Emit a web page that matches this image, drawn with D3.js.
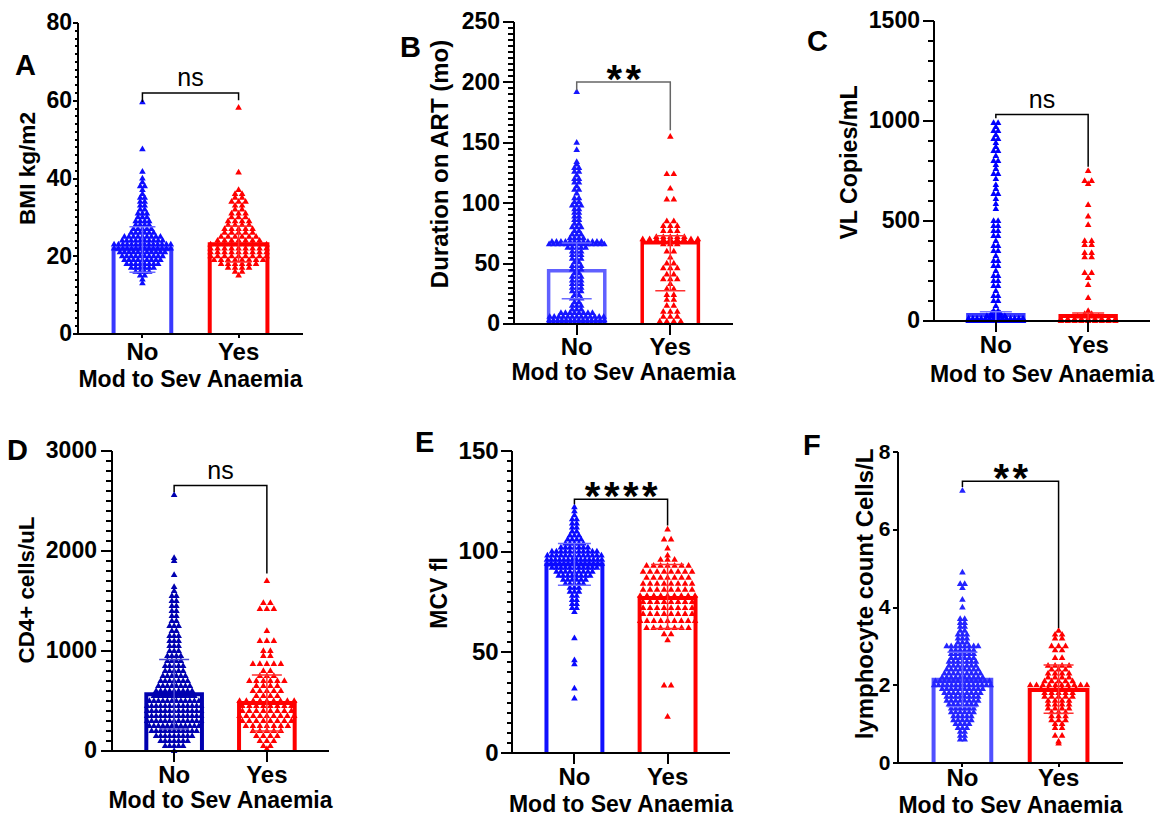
<!DOCTYPE html>
<html>
<head>
<meta charset="utf-8">
<script src="https://cdn.jsdelivr.net/npm/d3@7"></script>
<style>
  body { margin: 0; background: #fff; }
  svg text { font-family: "Liberation Sans", Arial, sans-serif; }
  .tick line, .domain { shape-rendering: crispEdges; }
</style>
</head>
<body>
<div id="chart"></div>
<script>
// groups on every x axis
const groups = ["No", "Yes"];

// each scatter group is a list of [value, number of points at that value]

// A - BMI
const bmiNo = [[13,1],[14,1],[15,2],[16,4],[17,6],[18,8],[19,9],[20,10],[21,11],[22,14],[23,14],[24,10],[25,9],[26,6],[27,5],[28,4],[29,4],[30,3],[31,3],[32,2],[33,2],[34,2],[35,2],[36,1],[37,1],[38,2],[39,1],[40,1],[41.7,1],[47.5,1],[59.6,1]];
const bmiYes = [[15,1],[16,2],[17,4],[18,6],[19,8],[20,9],[21,9],[22,9],[23,9],[24,7],[25,6],[26,5],[27,5],[28,4],[29,4],[30,3],[31,3],[32,2],[33,2],[34,3],[35,2],[36,2],[37,1],[41.5,1],[58.2,1]];
const bmiBar = [21.8, 23.1];
const bmiErr = [[15.9, 27.6], [18.5, 27.7]];
const bmiTicks = [0, 20, 40, 60, 80];
const bmiSig = [62.0, 59.7, 60.1];

// B - duration on ART
const artNo = [[1,14],[3,14],[6,13],[9,8],[12,3],[15,3],[18,2],[21,3],[24,2],[27,3],[30,3],[33,3],[36,3],[39,3],[42,2],[45,3],[48,3],[51,2],[54,3],[57,3],[60,3],[63,5],[66,14],[68,12],[71,4],[74,3],[77,2],[80,3],[83,2],[86,2],[89,2],[92,2],[95,2],[98,3],[101,2],[104,2],[108,1],[111,2],[114,1],[117,2],[120,2],[123,1],[126,2],[129,2],[132,1],[134,1],[144,1],[150,1],[192,1]];
const artYes = [[2,4],[6,3],[10,3],[15,2],[20,2],[24,2],[29,2],[33,1],[37,3],[41,2],[46,3],[50,2],[55,1],[60,2],[66,3],[70,9],[72,5],[77,3],[81,3],[85,2],[103,2],[112,1],[124,2],[155,1]];
const artBar = [44, 67.2];
const artErr = [[21, 67], [27.5, 73]];
const artTicks = [0, 50, 100, 150, 200, 250];
const artSig = [200.4, 193.5, 160.4];

// C - viral load
const vlNo = [[0,14],[12,14],[25,5],[37,3],[50,2],[75,1],[100,2],[125,2],[150,1],[175,2],[200,2],[225,2],[250,1],[275,2],[300,2],[325,1],[350,2],[375,2],[400,1],[425,2],[450,2],[475,2],[500,2],[560,1],[585,1],[610,1],[635,2],[660,1],[680,1],[710,1],[735,2],[760,1],[780,1],[800,2],[825,1],[850,2],[870,1],[890,1],[910,2],[930,1],[950,2],[970,1],[990,2]];
const vlYes = [[0,9],[10,9],[22,4],[35,2],[50,1],[115,1],[180,1],[215,1],[240,2],[318,2],[340,2],[380,2],[400,2],[480,1],[522,1],[580,1],[685,1],[700,2],[750,1]];
const vlBar = [30, 25];
const vlErr = [[0, 46], [0, 40]];
const vlTicks = [0, 500, 1000, 1500];
const vlSig = [1032, 1014, 771];

// D - CD4 count
const cd4No = [[0,1],[50,5],[100,7],[150,9],[200,11],[250,12],[300,13],[350,13],[400,13],[450,13],[500,12],[550,10],[600,9],[650,8],[700,7],[750,6],[800,5],[850,5],[900,4],[950,4],[1000,3],[1050,3],[1100,3],[1150,3],[1200,2],[1250,3],[1300,2],[1350,2],[1400,2],[1450,2],[1500,2],[1550,2],[1600,1],[1640,1],[1760,1],[1900,1],[1930,1],[2560,1]];
const cd4Yes = [[20,1],[50,2],[100,3],[150,4],[200,5],[250,7],[300,8],[350,9],[400,8],[450,8],[500,9],[550,4],[600,5],[650,4],[700,6],[750,3],[800,2],[870,5],[950,2],[1000,2],[1100,3],[1200,1],[1420,3],[1480,2],[1700,1]];
const cd4Bar = [567, 480];
const cd4Err = [[220, 914], [200, 760]];
const cd4Ticks = [0, 1000, 2000, 3000];
const cd4Sig = [2654, 2590, 1774];

// E - MCV
const mcvNo = [[27,1],[32,1],[44,1],[46,1],[57,1],[70,1],[72,2],[74,2],[76,2],[78,2],[80,3],[82,3],[84,5],[86,6],[88,8],[90,9],[92,11],[94,14],[96,14],[98,13],[100,11],[102,7],[104,5],[106,4],[108,3],[110,2],[112,2],[114,2],[116,2],[118,1],[120,1],[122,1]];
const mcvYes = [[18,1],[33.5,2],[56,1],[59,2],[62,7],[65.5,9],[69,8],[72,8],[75,8],[78,9],[81,8],[84,8],[87,7],[90,8],[93,7],[96,3],[98,1],[101.5,1],[106,2],[111,1]];
const mcvBar = [93.6, 77];
const mcvErr = [[83.3, 104], [61.8, 93.6]];
const mcvTicks = [0, 50, 100, 150];
const mcvSig = [126, 123.5, 113];

// F - lymphocyte count
const lymNo = [[0.6,2],[0.7,2],[0.8,2],[0.9,3],[1.0,4],[1.1,5],[1.2,5],[1.3,6],[1.4,6],[1.5,7],[1.6,8],[1.7,8],[1.8,9],[1.9,10],[2.0,14],[2.1,13],[2.2,10],[2.3,9],[2.4,8],[2.5,7],[2.6,7],[2.7,6],[2.8,6],[2.9,6],[3.0,8],[3.1,3],[3.2,3],[3.3,3],[3.4,2],[3.5,2],[3.6,2],[3.7,2],[4.0,1],[4.2,1],[4.5,1],[4.6,2],[4.9,1],[7.0,1]];
const lymYes = [[0.5,1],[0.55,1],[0.7,2],[0.9,2],[1.0,2],[1.1,3],[1.2,3],[1.3,3],[1.4,4],[1.5,4],[1.6,4],[1.7,5],[1.8,5],[1.9,6],[2.0,10],[2.1,5],[2.2,4],[2.3,4],[2.4,3],[2.5,4],[2.7,2],[2.9,2],[3.0,3],[3.2,2],[3.3,2],[3.4,1]];
const lymBar = [2.14, 1.88];
const lymErr = [[1.45, 2.85], [1.28, 2.52]];
const lymTicks = [0, 2, 4, 6, 8];
const lymSig = [7.25, 7.1, 3.47];

const red = "#ff0000";

// panel layout
const panels = [
  {letter: "A", lx: 15, ly: 75, title: "BMI kg/m2", tx: 35, ty: 168.5, tf: 22.6, xty: 387,
   left: 78, top: 23, w: 225, h: 311, ticks: bmiTicks, minor: 2, tMaj: 5, tMin: 3, yPad: 1, xTick: 4, xPad: 5, tickFont: 23,
   data: [bmiNo, bmiYes], bars: bmiBar, err: bmiErr, sig: "ns", sigY: bmiSig, sigColor: "#000",
   pt: "#0d0dff", bar: "#3838ff", barW: 4, errC: "#6a6aff", cap: 26},
  {letter: "B", lx: 400, ly: 57, title: "Duration on ART (mo)", tx: 447.5, ty: 164, tf: 24, xty: 380,
   left: 514, top: 22, w: 219, h: 302, ticks: artTicks, minor: 5, tMaj: 11, tMin: 6, yPad: 3, xTick: 11, xPad: 3, tickFont: 23,
   data: [artNo, artYes], bars: artBar, err: artErr, sig: "**", sigY: artSig, sigColor: "#666",
   pt: "#1616ff", bar: "#6060ff", barW: 3.5, errC: "#6a6aff", cap: 30},
  {letter: "C", lx: 807, ly: 51, title: "VL Copies/mL", tx: 857, ty: 162.5, tf: 23.2, xty: 381.7,
   left: 934, top: 21, w: 216, h: 300, ticks: vlTicks, minor: 100, tMaj: 11, tMin: 6, yPad: 3, xTick: 11, xPad: 4, tickFont: 23,
   data: [vlNo, vlYes], bars: vlBar, err: vlErr, sig: "ns", sigY: vlSig, sigColor: "#000",
   pt: "#0000ff", bar: "#3838ff", barW: 4, errC: "#7a7aff", cap: 32},
  {letter: "D", lx: 7, ly: 460, title: "CD4+ cells/uL", tx: 34, ty: 590, tf: 22.3, xty: 808.3,
   left: 112, top: 451, w: 217, h: 300, ticks: cd4Ticks, minor: 100, tMaj: 11, tMin: 6, yPad: 4, xTick: 11, xPad: 4, tickFont: 23,
   data: [cd4No, cd4Yes], bars: cd4Bar, err: cd4Err, sig: "ns", sigY: cd4Sig, sigColor: "#000",
   pt: "#0000b0", bar: "#0000b0", barW: 4, errC: "#4a4ad0", cap: 30},
  {letter: "E", lx: 415, ly: 452, title: "MCV fl", tx: 447, ty: 593, tf: 23, xty: 812,
   left: 512, top: 451, w: 218, h: 302, ticks: mcvTicks, minor: 5, tMaj: 11, tMin: 5, yPad: 2.4, xTick: 11, xPad: 4.3, tickFont: 24,
   data: [mcvNo, mcvYes], bars: mcvBar, err: mcvErr, sig: "****", sigY: mcvSig, sigColor: "#000",
   pt: "#0a0aff", bar: "#1010ff", barW: 4, errC: "#6a6aff", cap: 33},
  {letter: "F", lx: 803, ly: 455, title: "lymphocyte count Cells/L", tx: 872.5, ty: 594, tf: 24, xty: 812.5,
   left: 898, top: 452, w: 225, h: 311, ticks: lymTicks, minor: 0, tMaj: 5, tMin: 0, yPad: 2.5, xTick: 4, xPad: 2.4, tickFont: 21,
   data: [lymNo, lymYes], bars: lymBar, err: lymErr, sig: "**", sigY: lymSig, sigColor: "#000",
   pt: "#2424ff", bar: "#5050ff", barW: 4, errC: "#6a6aff", cap: 30}
];

const svg = d3.select("#chart")
  .append("svg")
    .attr("width", 1157)
    .attr("height", 818);

const tri = d3.symbol(d3.symbolTriangle, 19);

panels.forEach(p => {
  const g = svg.append("g")
      .attr("transform", `translate(${p.left},${p.top})`);

  const ymax = d3.max(p.ticks);
  const y = d3.scaleLinear().domain([0, ymax]).range([p.h, 0]);
  const x = d3.scalePoint().domain(groups).range([0, p.w]).padding(0.67);
  const bw = x.step() * 0.6;

  // bars (open outlines)
  g.selectAll(".bar")
    .data(p.bars)
    .join("path")
      .attr("class", "bar")
      .attr("d", (d, i) => {
        const cx = x(groups[i]);
        return `M${cx - bw / 2},${y(0)}V${y(d)}H${cx + bw / 2}V${y(0)}`;
      })
      .attr("fill", "none")
      .attr("stroke", (d, i) => i === 0 ? p.bar : red)
      .attr("stroke-width", p.barW);

  // scatter points, stacked in rows like the original
  const pts = [];
  p.data.forEach((bins, gi) => {
    const cx = x(groups[gi]);
    const sp = gi === 0 ? 4.5 : 7;
    bins.forEach(([v, n]) => {
      const s = n > 1 ? Math.min(sp, (bw - 1) / (n - 1)) : 0;
      for (let i = 0; i < n; i++) pts.push({x: cx + (i - (n - 1) / 2) * s, y: y(v), gi: gi});
    });
  });
  g.selectAll(".pt")
    .data(pts)
    .join("path")
      .attr("class", "pt")
      .attr("d", tri)
      .attr("transform", d => `translate(${d.x},${d.y})`)
      .attr("fill", d => d.gi === 0 ? p.pt : red);

  // error bars
  p.err.forEach((e, i) => {
    const cx = x(groups[i]);
    const c = i === 0 ? p.errC : "#ff3030";
    g.append("path")
      .attr("d", `M${cx},${y(e[0])}V${y(e[1])}M${cx - p.cap / 2},${y(e[0])}H${cx + p.cap / 2}M${cx - p.cap / 2},${y(e[1])}H${cx + p.cap / 2}`)
      .attr("fill", "none")
      .attr("stroke", c)
      .attr("stroke-width", 1.5);
  });

  // minor ticks
  if (p.minor) {
    g.append("g")
      .call(d3.axisLeft(y).offset(0).tickValues(d3.range(0, ymax + 1e-9, p.minor)).tickSize(p.tMin).tickFormat(""))
      .call(a => a.select(".domain").remove())
      .selectAll("line").attr("stroke", "#000").attr("stroke-width", 2);
  }

  // y axis
  const ya = g.append("g")
    .call(d3.axisLeft(y).offset(0).tickValues(p.ticks).tickSize(p.tMaj).tickSizeOuter(0).tickPadding(p.yPad).tickFormat(d3.format("d")));
  ya.select(".domain").attr("stroke", "#000").attr("stroke-width", 2);
  ya.selectAll(".tick line").attr("stroke", "#000").attr("stroke-width", 2);
  ya.selectAll("text")
    .style("font-size", p.tickFont + "px")
    .style("font-weight", "bold")
    .attr("fill", "#000");

  // x axis
  const xa = g.append("g")
    .attr("transform", `translate(0,${p.h})`)
    .call(d3.axisBottom(x).offset(0).tickSize(p.xTick).tickSizeOuter(0).tickPadding(p.xPad));
  xa.select(".domain").attr("stroke", "#000").attr("stroke-width", 2);
  xa.selectAll(".tick line").attr("stroke", "#000").attr("stroke-width", 2);
  xa.selectAll("text")
    .style("font-size", "24px")
    .style("font-weight", "bold")
    .attr("fill", "#000");

  // significance bracket
  const x0 = x(groups[0]), x1 = x(groups[1]);
  g.append("path")
    .attr("d", `M${x0},${y(p.sigY[1])}V${y(p.sigY[0])}H${x1}V${y(p.sigY[2])}`)
    .attr("fill", "none")
    .attr("stroke", p.sigColor)
    .attr("stroke-width", 1.5);

  if (p.sig === "ns") {
    g.append("text")
      .attr("x", (x0 + x1) / 2)
      .attr("y", y(p.sigY[0]) - 7)
      .attr("text-anchor", "middle")
      .style("font-size", "25px")
      .text(p.sig);
  } else {
    g.append("text")
      .attr("x", (x0 + x1) / 2 + 2)
      .attr("y", y(p.sigY[0]) + 11)
      .attr("text-anchor", "middle")
      .style("font-size", "40px")
      .style("font-weight", "bold")
      .style("letter-spacing", "3.5px")
      .text(p.sig);
  }

  // x axis title
  g.append("text")
    .attr("x", p.w / 2)
    .attr("y", p.xty - p.top)
    .attr("text-anchor", "middle")
    .style("font-size", "23px")
    .style("font-weight", "bold")
    .text("Mod to Sev Anaemia");

  // y axis title
  svg.append("text")
    .attr("transform", `translate(${p.tx},${p.ty})rotate(-90)`)
    .attr("text-anchor", "middle")
    .style("font-size", p.tf + "px")
    .style("font-weight", "bold")
    .text(p.title);

  // panel letter
  svg.append("text")
    .attr("x", p.lx)
    .attr("y", p.ly)
    .style("font-size", "29px")
    .style("font-weight", "bold")
    .text(p.letter);
});
</script>
</body>
</html>
